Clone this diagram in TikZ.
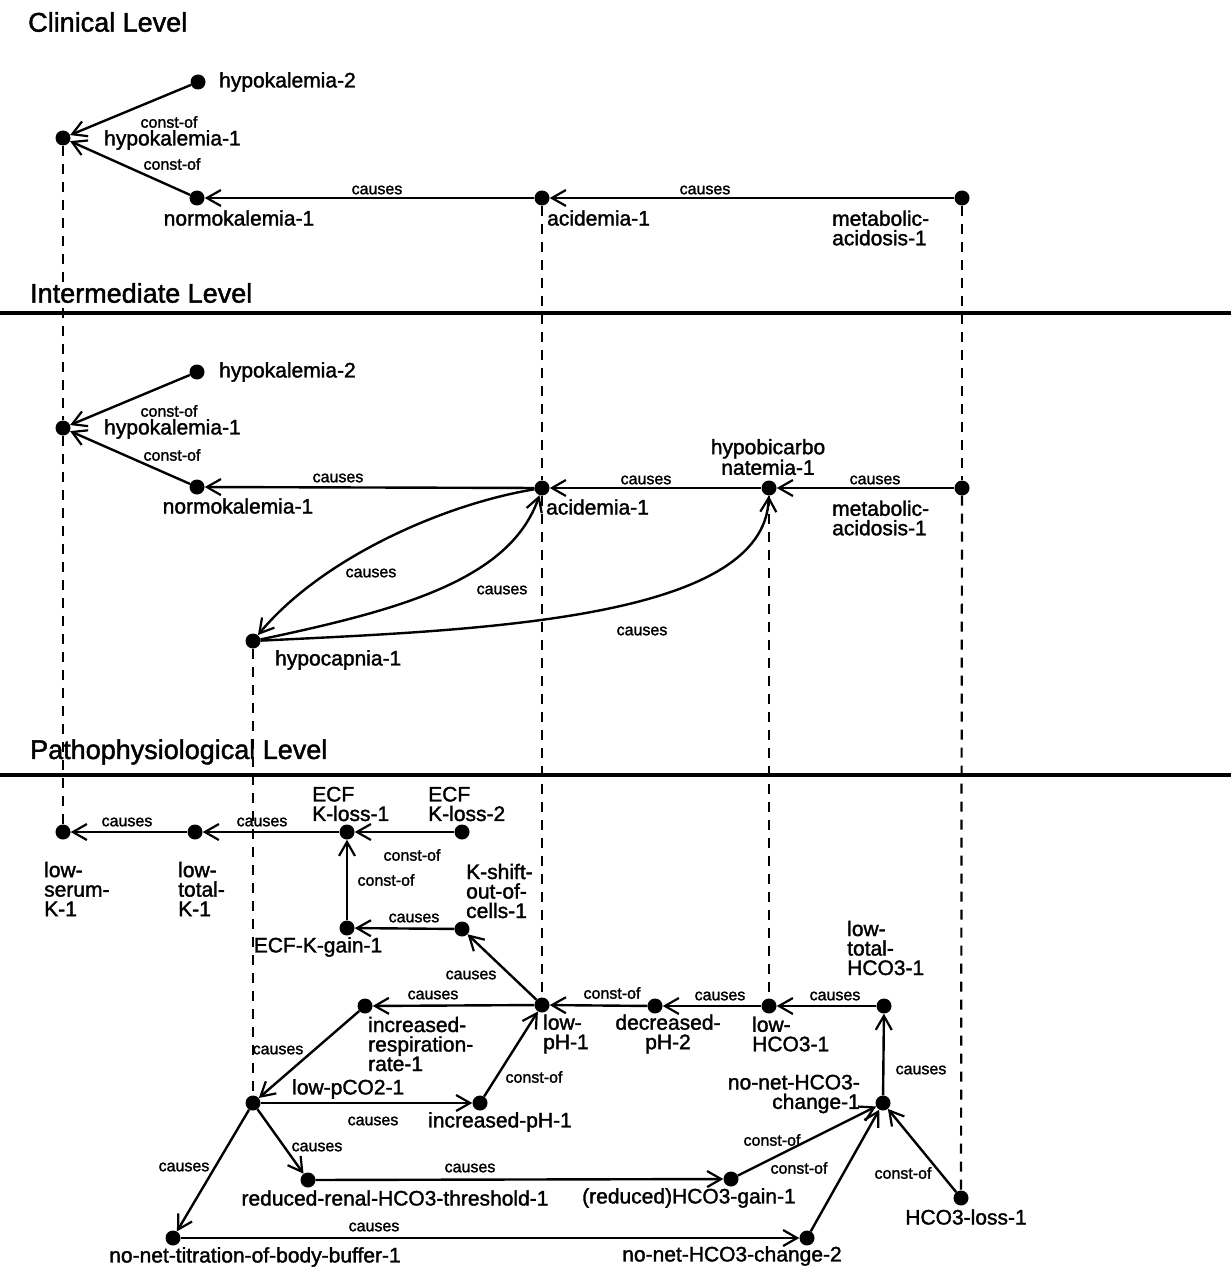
\documentclass[tikz,border=0pt]{standalone}
\usepackage{fontspec}
\setmainfont{Liberation Sans}
\newfontfamily\hv{Liberation Sans}[FakeBold=1.6]
\usetikzlibrary{arrows.meta}
\begin{document}
\begin{tikzpicture}[x=1pt,y=-1pt,
 dot/.style={circle,fill=black,inner sep=0pt,minimum size=15pt},
 lab/.style={inner sep=0pt,font=\hv\fontsize{21}{19.5}\selectfont,align=left},
 elab/.style={inner sep=0pt,font=\hv\fontsize{16}{16}\selectfont},
 ttl/.style={inner sep=0pt,anchor=west,font=\hv\fontsize{27}{27}\selectfont},
 edge/.style={line width=2.4pt,-{Straight Barb[length=14pt,width=16pt,line width=2.2pt]}},
 dsh/.style={line width=2.2pt,dash pattern=on 10pt off 8pt},
 sep/.style={line width=3.5pt}]
\useasboundingbox (0,0) rectangle (1231,1268);
\fill[white] (0,0) rectangle (1231,1268);

% titles and separators
\node[ttl] (tC) at (28,22) {Clinical Level};
\node[ttl] (tI) at (30,293) {Intermediate Level};
\node[ttl] (tP) at (30,752) {Pathophysiological Level};
\draw[sep] (0,313) -- (1231,313);
\draw[sep] (0,775) -- (1231,775);

% ---------------- clinical
\node[dot] (cH2) at (198,82) {};
\node[dot] (cH1) at (63,138) {};
\node[dot] (cN1) at (197,198) {};
\node[dot] (cA1) at (542,198) {};
\node[dot] (cM1) at (962,198) {};
\node[lab,anchor=west] at (219,82) {hypokalemia-2};
\node[lab,anchor=west] at (104,140) {hypokalemia-1};
\node[lab] at (239,218) {normokalemia-1};
\node[lab,anchor=west] at (547,218) {acidemia-1};
\node[lab,anchor=west] at (832,228) {metabolic-\\acidosis-1};
\draw[edge] (cH2) -- (cH1);
\draw[edge] (cN1) -- (cH1);
\draw[edge] (cA1) -- (cN1);
\draw[edge] (cM1) -- (cA1);
\node[elab] at (169,122) {const-of};
\node[elab] at (172,164) {const-of};
\node[elab] at (377,190) {causes};
\node[elab] at (705,190) {causes};

% ---------------- intermediate
\node[dot] (iH2) at (197,372) {};
\node[dot] (iH1) at (63,428) {};
\node[dot] (iN1) at (197,487) {};
\node[dot] (iA1) at (542,488) {};
\node[dot] (iHb) at (769,488) {};
\node[dot] (iM1) at (962,488) {};
\node[dot] (iHc) at (253,641) {};
\node[lab,anchor=west] at (219,372) {hypokalemia-2};
\node[lab,anchor=west] at (104,429) {hypokalemia-1};
\node[lab] at (238,506) {normokalemia-1};
\node[lab,anchor=west] at (546,507) {acidemia-1};
\node[lab,align=center] at (768,457) {hypobicarbo\\natemia-1};
\node[lab,anchor=west] at (832,518) {metabolic-\\acidosis-1};
\node[lab,anchor=west] at (275,660) {hypocapnia-1};
\draw[edge] (iH2) -- (iH1);
\draw[edge] (iN1) -- (iH1);
\draw[edge] (iA1) -- (iN1);
\draw[edge] (iHb) -- (iA1);
\draw[edge] (iM1) -- (iHb);
\draw[edge] (iA1) .. controls (440,505) and (320,560) .. (iHc);
\draw[edge] (iHc) .. controls (400,610) and (510,580) .. (iA1);
\draw[edge] (iHc) .. controls (480,630) and (765,620) .. (iHb);
\node[elab] at (169,411) {const-of};
\node[elab] at (172,455) {const-of};
\node[elab] at (338,478) {causes};
\node[elab] at (646,480) {causes};
\node[elab] at (875,480) {causes};
\node[elab] at (371,573) {causes};
\node[elab] at (502,590) {causes};
\node[elab] at (642,631) {causes};

% ---------------- pathophysiological
\node[dot] (pLsK) at (63,832) {};
\node[dot] (pLtK) at (195,832) {};
\node[dot] (pKl1) at (347,832) {};
\node[dot] (pKl2) at (462,832) {};
\node[dot] (pKg) at (347,928) {};
\node[dot] (pKs) at (462,929) {};
\node[dot] (pLpH) at (542,1005) {};
\node[dot] (pDpH) at (655,1006) {};
\node[dot] (pLH) at (769,1006) {};
\node[dot] (pLtH) at (884,1006) {};
\node[dot] (pIR) at (365,1006) {};
\node[dot] (pLpC) at (253,1103) {};
\node[dot] (pIpH) at (480,1103) {};
\node[dot] (pRR) at (308,1180) {};
\node[dot] (pNT) at (173,1238) {};
\node[dot] (pGain) at (731,1179) {};
\node[dot] (pNN2) at (807,1238) {};
\node[dot] (pNN1) at (883,1103) {};
\node[dot] (pHl) at (961,1198) {};

\node[lab,anchor=west] at (44,889) {low-\\serum-\\K-1};
\node[lab,anchor=west] at (178,889) {low-\\total-\\K-1};
\node[lab,anchor=west] at (312,804) {ECF\\K-loss-1};
\node[lab,anchor=west] at (428,804) {ECF\\K-loss-2};
\node[lab] at (318,947) {ECF-K-gain-1};
\node[lab,anchor=west] at (466,891) {K-shift-\\out-of-\\cells-1};
\node[lab,anchor=west] at (543,1034) {low-\\pH-1};
\node[lab,align=center] at (668,1034) {decreased-\\pH-2};
\node[lab,anchor=west] at (752,1034) {low-\\HCO3-1};
\node[lab,anchor=west] at (847,948) {low-\\total-\\HCO3-1};
\node[lab,anchor=west] at (368,1044) {increased-\\respiration-\\rate-1};
\node[lab,anchor=west] at (292,1089) {low-pCO2-1};
\node[lab] at (500,1122) {increased-pH-1};
\node[lab] at (395,1198) {reduced-renal-HCO3-threshold-1};
\node[lab] at (255,1257) {no-net-titration-of-body-buffer-1};
\node[lab] at (689,1198) {(reduced)HCO3-gain-1};
\node[lab] at (732,1256) {no-net-HCO3-change-2};
\node[lab,anchor=east,align=right] at (860,1094) {no-net-HCO3-\\change-1};
\node[lab] at (966,1217) {HCO3-loss-1};

\draw[edge] (pLtK) -- (pLsK);
\draw[edge] (pKl1) -- (pLtK);
\draw[edge] (pKl2) -- (pKl1);
\draw[edge] (pKg) -- (pKl1);
\draw[edge] (pKs) -- (pKg);
\draw[edge] (pLpH) -- (pKs);
\draw[edge] (pDpH) -- (pLpH);
\draw[edge] (pLH) -- (pDpH);
\draw[edge] (pLtH) -- (pLH);
\draw[edge] (pNN1) -- (pLtH);
\draw[edge] (pLpH) -- (pIR);
\draw[edge] (pIR) -- (pLpC);
\draw[edge] (pLpC) -- (pIpH);
\draw[edge] (pIpH) -- (pLpH);
\draw[edge] (pLpC) -- (pRR);
\draw[edge] (pLpC) -- (pNT);
\draw[edge] (pRR) -- (pGain);
\draw[edge] (pNT) -- (pNN2);
\draw[edge] (pGain) -- (pNN1);
\draw[edge] (pNN2) -- (pNN1);
\draw[edge] (pHl) -- (pNN1);

\node[elab] at (127,822) {causes};
\node[elab] at (262,822) {causes};
\node[elab] at (412,855) {const-of};
\node[elab] at (386,880) {const-of};
\node[elab] at (414,918) {causes};
\node[elab] at (471,975) {causes};
\node[elab] at (612,993) {const-of};
\node[elab] at (720,996) {causes};
\node[elab] at (835,996) {causes};
\node[elab] at (433,995) {causes};
\node[elab] at (278,1050) {causes};
\node[elab] at (373,1121) {causes};
\node[elab] at (534,1077) {const-of};
\node[elab] at (317,1147) {causes};
\node[elab] at (184,1167) {causes};
\node[elab] at (470,1168) {causes};
\node[elab] at (374,1227) {causes};
\node[elab] at (921,1070) {causes};
\node[elab] at (772,1140) {const-of};
\node[elab] at (799,1168) {const-of};
\node[elab] at (903,1173) {const-of};

% ---------------- dashed level links
\draw[dsh] (cH1) -- (iH1);
\draw[dsh] (iH1) -- (pLsK);
\draw[dsh] (cA1) -- (iA1);
\draw[dsh] (iA1) -- (pLpH);
\draw[dsh] (cM1) -- (iM1);
\draw[dsh] (iM1) -- (pHl);
\draw[dsh] (iHb) -- (pLH);
\draw[dsh] (iHc) -- (pLpC);
\end{tikzpicture}
\end{document}
